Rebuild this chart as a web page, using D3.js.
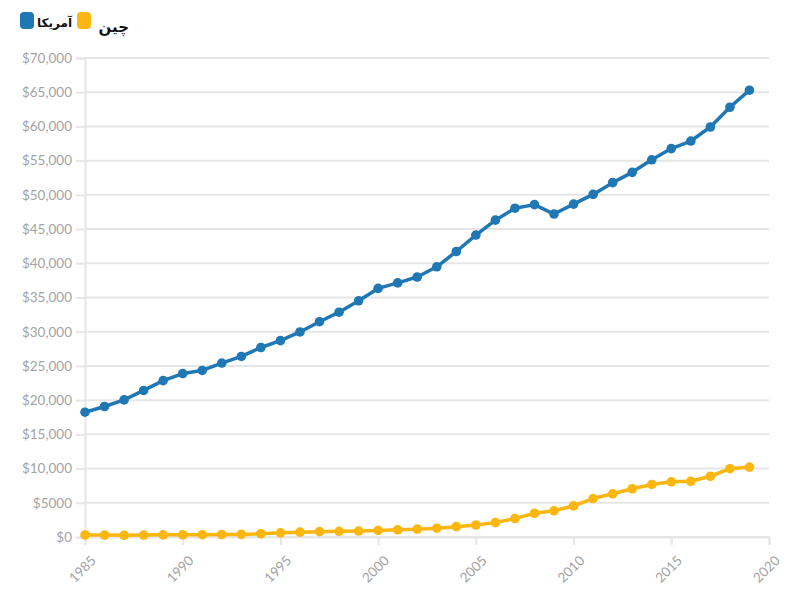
<!DOCTYPE html>
<html><head><meta charset="utf-8">
<script src="https://cdn.jsdelivr.net/npm/d3@7"></script>
<style>body{margin:0;background:#fff;}svg{display:block;}</style>
</head><body>
<script>
const years = d3.range(1985, 2020);
const usValues = [18237,19071,20039,21417,22857,23889,24342,25419,26387,27695,28691,29968,31459,32854,34515,36330,37134,37998,39490,41725,44123,46302,48050,48570,47195,48651,50066,51784,53291,55124,56763,57867,59915,62805,65298];
const chinaValues = [294,281,252,284,311,318,333,366,377,473,610,709,782,829,873,959,1053,1149,1289,1509,1753,2099,2694,3468,3832,4550,5618,6317,7051,7679,8066,8148,8879,9977,10217];
const seriesNames = ["آمریکا","چین"];
const seriesColors = ["#1f77b4","#fbb710"];
const yTicks = [0,5000,10000,15000,20000,25000,30000,35000,40000,45000,50000,55000,60000,65000,70000];
const yTickLabels = ["$0","$5000","$10,000","$15,000","$20,000","$25,000","$30,000","$35,000","$40,000","$45,000","$50,000","$55,000","$60,000","$65,000","$70,000"];
const xTicks = [1985,1990,1995,2000,2005,2010,2015,2020];

const W=790,H=601;
const m={left:85,right:21,top:58,bottom:64};
const svg=d3.select("body").append("svg").attr("width",W).attr("height",H);
const x=d3.scaleLinear().domain([1985,2020]).range([m.left,W-m.right]);
const y=d3.scaleLinear().domain([0,70000]).range([H-m.bottom,m.top]);

// grid
svg.append("g").selectAll("line").data(yTicks).join("line")
 .attr("x1",x(1985)).attr("x2",x(2020)).attr("y1",d=>y(d)).attr("y2",d=>y(d))
 .attr("stroke","#e6e6e6").attr("stroke-width",2);

// y axis
const ya=svg.append("g").attr("transform",`translate(${m.left},0)`)
 .call(d3.axisLeft(y).tickValues(yTicks).tickFormat((d,i)=>yTickLabels[i]).tickSize(9).tickPadding(4));
ya.select(".domain").attr("stroke","#e6e6e6").attr("stroke-width",2);
ya.selectAll(".tick line").attr("stroke","#e6e6e6").attr("stroke-width",2);
ya.selectAll("text").attr("fill","#a3a3a3").style("font-family","Lato").style("font-size","13.5px");

// x axis
const xa=svg.append("g").attr("transform",`translate(0,${y(0)})`)
 .call(d3.axisBottom(x).tickValues(xTicks).tickFormat(d3.format("d")).tickSize(8).tickPadding(4));
xa.select(".domain").attr("stroke","#e6e6e6").attr("stroke-width",2);
xa.selectAll(".tick line").attr("stroke","#e6e6e6").attr("stroke-width",2);
xa.selectAll("text").attr("fill","#a3a3a3").style("font-family","Lato").style("font-size","13.5px")
 .attr("text-anchor","end").attr("x",0).attr("y",0).attr("dy","0.35em")
 .attr("transform","translate(8,21) rotate(-45)");

const line=d3.line().x((d,i)=>x(years[i])).y(d=>y(d));
[usValues,chinaValues].forEach((vals,k)=>{
 const g=svg.append("g");
 g.append("path").datum(vals).attr("d",line).attr("fill","none")
  .attr("stroke",seriesColors[k]).attr("stroke-width",3.5).attr("stroke-linejoin","round");
 g.selectAll("circle").data(vals).join("circle")
  .attr("cx",(d,i)=>x(years[i])).attr("cy",d=>y(d)).attr("r",4.8).attr("fill",seriesColors[k]);
});

// legend
const lg=svg.append("g");
lg.append("rect").attr("x",20).attr("y",12).attr("width",14).attr("height",17).attr("rx",4).attr("fill",seriesColors[0]);
lg.append("text").attr("x",72).attr("y",27).attr("text-anchor","end").text(seriesNames[0])
 .style("font-family","DejaVu Sans").style("font-weight","bold").style("font-size","12px").attr("fill","#111");
lg.append("rect").attr("x",77).attr("y",12).attr("width",14).attr("height",17).attr("rx",4).attr("fill",seriesColors[1]);
lg.append("text").attr("x",129).attr("y",32).attr("text-anchor","end").text(seriesNames[1])
 .style("font-family","DejaVu Sans").style("font-weight","bold").style("font-size","15px").attr("fill","#111");
</script>
</body></html>
